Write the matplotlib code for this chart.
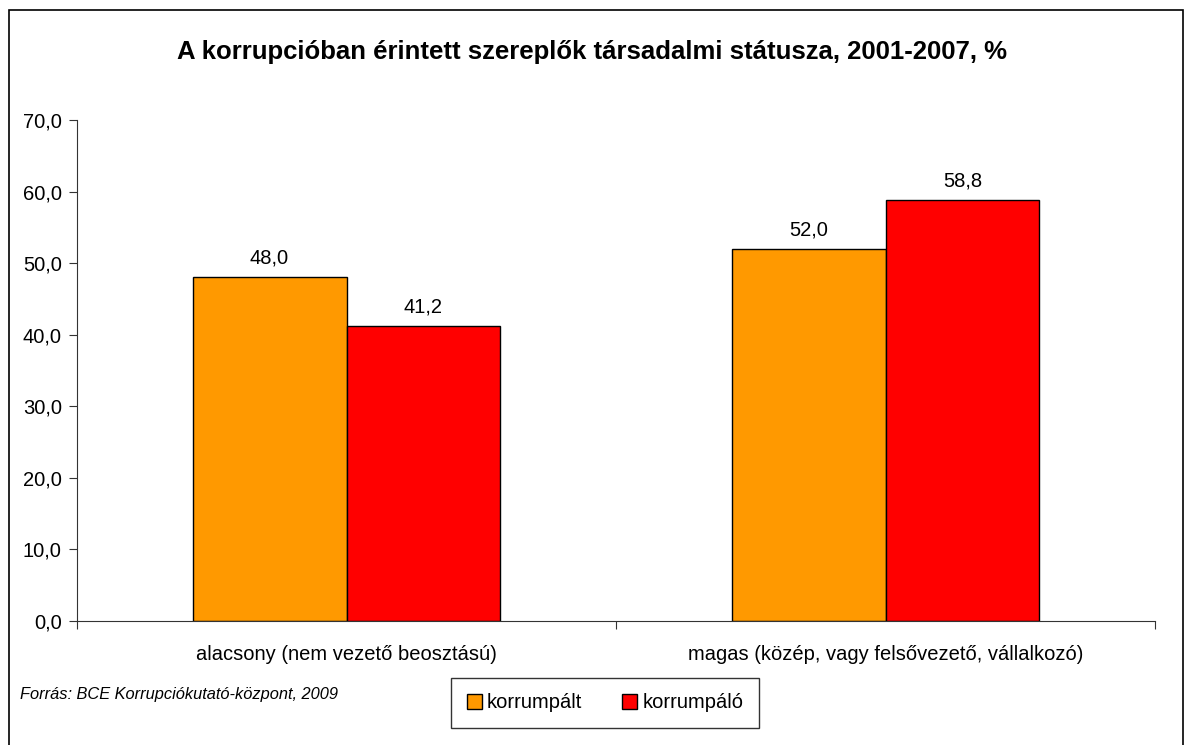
import matplotlib
matplotlib.use("Agg")
import matplotlib.pyplot as plt
from matplotlib.patches import Rectangle

plt.rcParams["font.family"] = ["Liberation Sans", "DejaVu Sans"]

# Data
categories = ["alacsony (nem vezető beosztású)",
              "magas (közép, vagy felsővezető, vállalkozó)"]
series_names = ["korrumpált", "korrumpáló"]
korrumpalt = [48.0, 52.0]
korrumpalo = [41.2, 58.8]
colors = ["#FF9900", "#FF0000"]

title = "A korrupcióban érintett szereplők társadalmi státusza, 2001-2007, %"
source = "Forrás: BCE Korrupciókutató-központ, 2009"

fs = 14.5

fig = plt.figure(figsize=(11.93, 7.45), dpi=100)
ax = fig.add_axes([77 / 1193, 1 - 621 / 745, (1155 - 77) / 1193, (621 - 120) / 745])

width = 0.2857
centers = [i + 0.5 for i in range(len(categories))]
for j, vals in enumerate([korrumpalt, korrumpalo]):
    xs = [c + (j - 0.5) * width for c in centers]
    bars = ax.bar(xs, vals, width=width, color=colors[j], edgecolor="black",
                  linewidth=1.0, label=series_names[j], zorder=2)
    for b, v in zip(bars, vals):
        ax.annotate(f"{v:.1f}".replace(".", ","),
                    (b.get_x() + b.get_width() / 2, v),
                    xytext=(0, 7), textcoords="offset points",
                    ha="center", va="bottom", fontsize=fs)

ax.set_xlim(0, len(categories))
ax.set_ylim(0, 70)
ax.set_yticks(range(0, 71, 10))
ax.set_yticklabels([f"{t:.1f}".replace(".", ",") for t in range(0, 71, 10)], fontsize=fs)
ax.set_xticks(range(0, len(categories) + 1))
ax.set_xticklabels([])
ax.set_xticks(centers, minor=True)
ax.set_xticklabels(categories, minor=True, fontsize=fs)
ax.tick_params(axis="x", which="minor", length=0, pad=17)
ax.tick_params(axis="x", which="major", direction="out", length=6, color="#333333")
ax.tick_params(axis="y", direction="out", length=6, color="#333333", pad=5)
for s in ["top", "right"]:
    ax.spines[s].set_visible(False)
for s in ["left", "bottom"]:
    ax.spines[s].set_color("#333333")

fig.text(0.496, 0.930, title, ha="center", va="center", fontsize=18.5, fontweight="bold")
fig.text(20 / 1193, 1 - 694 / 745, source, ha="left", va="center",
         fontsize=11.8, style="italic")

leg = fig.legend(loc="center", bbox_to_anchor=(605 / 1193, 1 - 703 / 745),
                 ncol=2, fontsize=fs, frameon=True, fancybox=False,
                 edgecolor="black", handlelength=0.75, handleheight=0.75,
                 handletextpad=0.25, columnspacing=2.0, borderpad=0.75)
leg.get_frame().set_linewidth(1.0)

# outer chart border
fig.patches.append(Rectangle((9 / 1193, -0.01), (1183 - 9) / 1193, 1 - 10 / 745 + 0.01,
                             transform=fig.transFigure, fill=False,
                             edgecolor="black", linewidth=1.2))

fig.savefig("out.png", dpi=100)
